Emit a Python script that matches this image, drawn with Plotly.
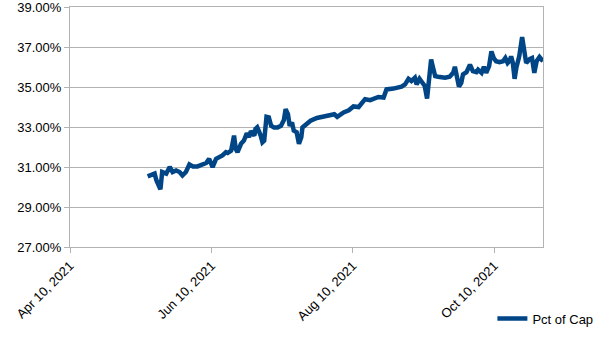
import plotly.graph_objects as go

# Timestamps of the readings
dates = [
    "2021-05-13 12:00", "2021-05-14 18:00", "2021-05-16 12:00", "2021-05-17 06:00",
    "2021-05-19 00:00", "2021-05-19 18:00", "2021-05-21 12:00", "2021-05-23 00:00",
    "2021-05-24 06:00", "2021-05-25 18:00", "2021-05-27 06:00", "2021-05-28 12:00",
    "2021-05-30 00:00", "2021-05-31 12:00", "2021-06-02 00:00", "2021-06-04 00:00",
    "2021-06-05 12:00", "2021-06-07 18:00", "2021-06-09 00:00", "2021-06-10 12:00",
    "2021-06-12 00:00", "2021-06-13 12:00", "2021-06-14 18:00", "2021-06-16 06:00",
    "2021-06-17 00:00", "2021-06-18 12:00", "2021-06-19 18:00", "2021-06-20 12:00",
    "2021-06-21 06:00", "2021-06-22 18:00", "2021-06-24 00:00", "2021-06-25 06:00",
    "2021-06-26 06:00", "2021-06-27 00:00", "2021-06-28 12:00", "2021-06-29 00:00",
    "2021-06-29 18:00", "2021-07-01 06:00", "2021-07-02 00:00", "2021-07-02 18:00",
    "2021-07-03 18:00", "2021-07-04 18:00", "2021-07-05 18:00", "2021-07-07 00:00",
    "2021-07-08 12:00", "2021-07-10 00:00", "2021-07-11 06:00", "2021-07-12 00:00",
    "2021-07-13 00:00", "2021-07-13 18:00", "2021-07-14 18:00", "2021-07-15 12:00",
    "2021-07-16 18:00", "2021-07-17 18:00", "2021-07-18 18:00", "2021-07-19 06:00",
    "2021-07-20 12:00", "2021-07-22 00:00", "2021-07-22 18:00", "2021-07-25 12:00",
    "2021-07-28 12:00", "2021-07-31 06:00", "2021-08-02 00:00", "2021-08-03 06:00",
    "2021-08-06 00:00", "2021-08-08 06:00", "2021-08-10 06:00", "2021-08-12 12:00",
    "2021-08-14 06:00", "2021-08-15 06:00", "2021-08-17 12:00", "2021-08-19 18:00",
    "2021-08-21 00:00", "2021-08-23 06:00", "2021-08-24 12:00", "2021-08-27 12:00",
    "2021-08-31 00:00", "2021-09-01 12:00", "2021-09-03 00:00", "2021-09-04 06:00",
    "2021-09-05 18:00", "2021-09-06 12:00", "2021-09-07 18:00", "2021-09-09 00:00",
    "2021-09-10 00:00", "2021-09-11 00:00", "2021-09-12 00:00", "2021-09-12 18:00",
    "2021-09-13 06:00", "2021-09-14 12:00", "2021-09-15 18:00", "2021-09-18 18:00",
    "2021-09-20 18:00", "2021-09-22 06:00", "2021-09-23 00:00", "2021-09-23 18:00",
    "2021-09-24 18:00", "2021-09-25 18:00", "2021-09-26 12:00", "2021-09-28 00:00",
    "2021-09-29 12:00", "2021-09-30 18:00", "2021-10-02 06:00", "2021-10-03 00:00",
    "2021-10-04 12:00", "2021-10-05 12:00", "2021-10-06 12:00", "2021-10-07 18:00",
    "2021-10-08 18:00", "2021-10-09 18:00", "2021-10-10 18:00", "2021-10-12 06:00",
    "2021-10-13 18:00", "2021-10-14 18:00", "2021-10-15 18:00", "2021-10-16 12:00",
    "2021-10-17 06:00", "2021-10-18 00:00", "2021-10-18 18:00", "2021-10-19 12:00",
    "2021-10-20 00:00", "2021-10-20 18:00", "2021-10-22 00:00", "2021-10-22 18:00",
    "2021-10-23 18:00", "2021-10-25 06:00", "2021-10-26 06:00", "2021-10-27 06:00",
    "2021-10-28 06:00", "2021-10-29 12:00", "2021-10-31 00:00",
]

# Percent of capacity at each reading
pct_of_cap = [
    30.53, 30.60, 30.67, 30.34, 29.88, 30.75, 30.67, 31.00,
    30.75, 30.83, 30.75, 30.58, 30.75, 31.13, 31.03, 31.03,
    31.08, 31.20, 31.41, 31.00, 31.41, 31.50, 31.58, 31.74,
    31.70, 31.82, 32.57, 31.90, 31.74, 32.16, 32.32, 32.69,
    32.49, 32.79, 32.57, 32.90, 32.98, 32.57, 32.24, 32.32,
    33.51, 33.48, 33.06, 32.98, 32.98, 33.06, 33.35, 33.89,
    33.64, 33.06, 33.23, 32.82, 32.74, 32.16, 32.49, 32.98,
    33.10, 33.23, 33.31, 33.45, 33.51, 33.56, 33.64, 33.51,
    33.73, 33.84, 34.03, 34.00, 34.22, 34.39, 34.34, 34.44,
    34.50, 34.47, 34.88, 34.92, 35.02, 35.13, 35.41, 35.30,
    35.46, 35.13, 35.41, 35.21, 35.05, 34.42, 35.30, 36.37,
    36.12, 35.54, 35.51, 35.46, 35.51, 35.71, 36.01, 35.63,
    35.02, 35.21, 35.63, 35.74, 36.12, 35.79, 35.74, 35.87,
    35.71, 36.01, 35.71, 36.04, 36.78, 36.45, 36.29, 36.24,
    36.29, 36.45, 36.20, 36.29, 36.53, 36.20, 35.41, 35.96,
    36.20, 36.53, 37.50, 36.78, 36.20, 36.40, 36.45, 35.71,
    36.29, 36.50, 36.29,
]

series_name = "Pct of Cap"

x_start = "2021-04-10"
x_end = "2021-10-31"
y_min, y_max, y_step = 0.27, 0.39, 0.02

grid_color = "#b3b3b3"
line_color = "#004586"
font_family = "Liberation Sans, Arial, sans-serif"
font_size = 13

fig = go.Figure()
fig.add_trace(go.Scatter(
    x=dates,
    y=[v / 100 for v in pct_of_cap],
    mode="lines",
    name=series_name,
    line=dict(color=line_color, width=4.5),
))

fig.update_layout(
    width=605,
    height=340,
    margin=dict(l=70, r=60, t=7, b=91),
    paper_bgcolor="white",
    plot_bgcolor="white",
    font=dict(family=font_family, size=font_size, color="#000000"),
    showlegend=True,
    legend=dict(
        x=0.893, y=-0.298, xanchor="left", yanchor="middle",
        font=dict(size=font_size, color="#000000"),
        bgcolor="rgba(0,0,0,0)",
        itemwidth=30,
    ),
    xaxis=dict(
        type="date",
        range=[x_start, x_end],
        tick0=x_start,
        dtick=61 * 86400000,
        tickformat="%b %d, %Y",
        tickangle=-45,
        ticks="outside",
        ticklen=5,
        tickcolor=grid_color,
        showgrid=False,
        showline=True,
        linecolor=grid_color,
        linewidth=1,
        mirror=True,
        zeroline=False,
        automargin=False,
        ticklabeloverflow="allow",
        tickfont=dict(size=font_size, color="#000000"),
    ),
    yaxis=dict(
        range=[y_min, y_max],
        tick0=y_min,
        dtick=y_step,
        tickformat=".2%",
        ticks="outside",
        ticklen=5,
        tickcolor=grid_color,
        showgrid=True,
        gridcolor=grid_color,
        gridwidth=1,
        showline=True,
        linecolor=grid_color,
        linewidth=1,
        mirror=True,
        zeroline=False,
        automargin=False,
        ticklabeloverflow="allow",
        tickfont=dict(size=font_size, color="#000000"),
    ),
)

fig.write_html("out.html")
